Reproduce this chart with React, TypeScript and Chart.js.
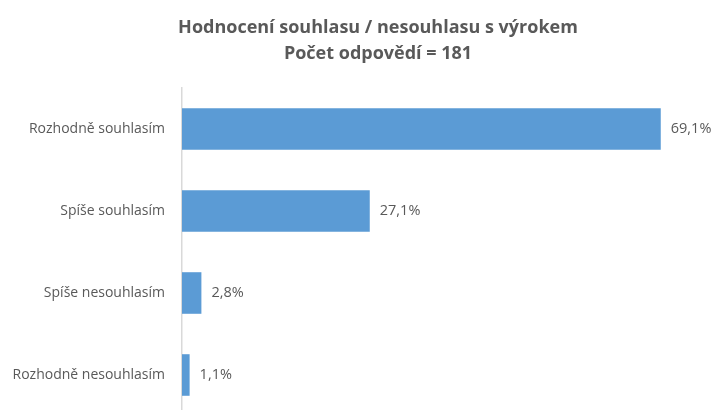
import React, { useEffect, useRef } from "react";
import { Chart, registerables } from "chart.js";

Chart.register(...registerables);

const categories = ["Rozhodně souhlasím", "Spíše souhlasím", "Spíše nesouhlasím", "Rozhodně nesouhlasím"];
const values = [69.1, 27.1, 2.8, 1.1];
const titleLines = ["Hodnocení souhlasu / nesouhlasu s výrokem", "Počet odpovědí = 181"];

const FONT = "'Open Sans'";
const TEXT = "#595959";

const titlePlugin = {
  id: "customTitle",
  afterDraw(chart: any) {
    const ctx = chart.ctx;
    ctx.save();
    ctx.fillStyle = TEXT;
    ctx.font = `bold 18px ${FONT}`;
    ctx.textAlign = "center";
    ctx.textBaseline = "alphabetic";
    ctx.fillText(titleLines[0], 378, 33);
    ctx.fillText(titleLines[1], 378, 59);
    ctx.restore();
  },
};

const labelPlugin = {
  id: "valueLabels",
  afterDatasetsDraw(chart: any) {
    const ctx = chart.ctx;
    const meta = chart.getDatasetMeta(0);
    ctx.save();
    ctx.fillStyle = TEXT;
    ctx.font = `14.5px ${FONT}`;
    ctx.textAlign = "left";
    ctx.textBaseline = "middle";
    meta.data.forEach((bar: any, i: number) => {
      const txt = values[i].toFixed(1).replace(".", ",") + "%";
      ctx.fillText(txt, bar.x + 10, bar.y);
    });
    ctx.restore();
  },
};

export default function App() {
  const ref = useRef<HTMLCanvasElement>(null);
  useEffect(() => {
    document.body.style.margin = "0";
    const chart = new Chart(ref.current!, {
      type: "bar",
      data: {
        labels: categories,
        datasets: [
          {
            data: values,
            backgroundColor: "#5b9bd5",
            borderWidth: 0,
            categoryPercentage: 1,
            barPercentage: 0.507,
          },
        ],
      },
      options: {
        indexAxis: "y",
        animation: false,
        responsive: false,
        layout: { padding: { top: 88, right: 48, bottom: 0, left: 0 } },
        plugins: { legend: { display: false }, title: { display: false }, tooltip: { enabled: false } },
        scales: {
          x: { display: false, min: 0, max: 70 },
          y: {
            grid: { display: false, drawTicks: false },
            border: { display: true, color: "#d9d9d9", width: 1.5 },
            ticks: { color: TEXT, font: { family: "Open Sans", size: 14 }, padding: 17 },
            afterFit(scale: any) {
              scale.width = 182;
              scale.paddingTop = 0;
              scale.paddingBottom = 0;
            },
          },
        },
      },
      plugins: [titlePlugin, labelPlugin],
    });
    return () => chart.destroy();
  }, []);
  return (
    <div style={{ position: "fixed", left: 0, top: 0, width: 715, height: 410, overflow: "hidden", background: "#fff" }}>
      <canvas ref={ref} width={715} height={416} style={{ display: "block" }} />
    </div>
  );
}
